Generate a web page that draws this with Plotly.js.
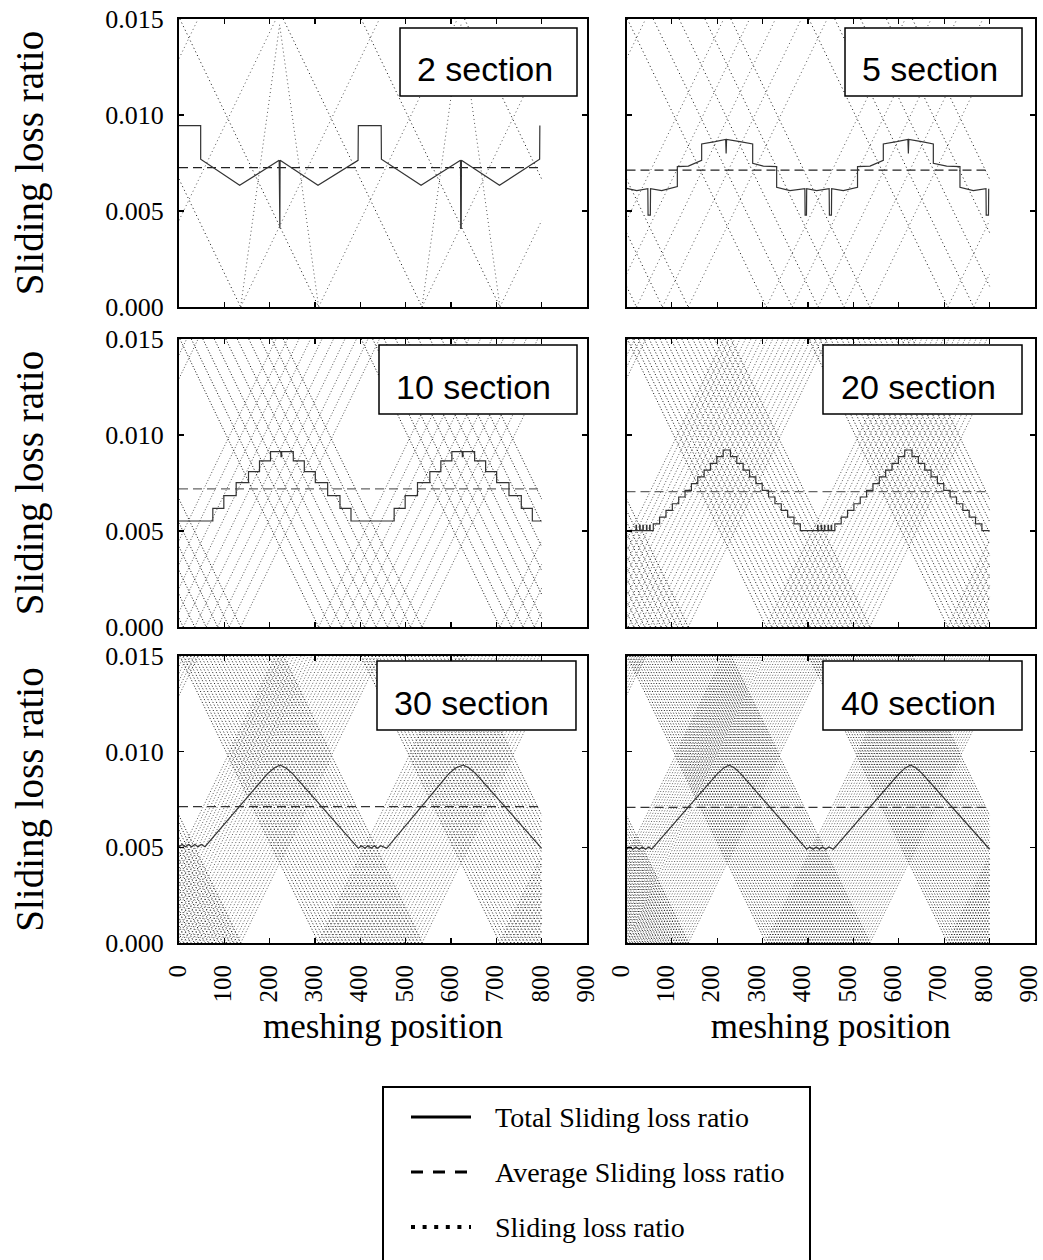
<!DOCTYPE html>
<html>
<head>
<meta charset="utf-8">
<script src="https://cdn.plot.ly/plotly-3.0.1.min.js"></script>
<style>
  html, body { margin: 0; padding: 0; background: #fff; }
  #chart { width: 1043px; height: 1260px; }
</style>
</head>
<body>
<div id="chart"></div>
<script>
// ---- meshing range and per-section loss geometry ----
const meshStart = 0;
const meshEnd = 800;
const pitchShifts = [-400, 0, 400, 800];   // the section curves repeat every tooth pitch
const lossTop = 0.015;
const sectionSlope = 4.9e-5;               // loss ratio gained per unit of meshing position away from a pitch point

// zero-sliding (pitch point) positions of the sections within one pitch
const apex2  = [-92, 136];
const apex5  = [-92, -35, 22, 79, 136];
const apex10 = [-92, -66.7, -41.3, -16, 9.3, 34.7, 60, 85.3, 110.7, 136];
const apex20 = [-92, -80, -68, -56, -44, -32, -20, -8, 4, 16, 28, 40, 52, 64, 76, 88, 100, 112, 124, 136];
const apex30 = [-92, -84.1, -76.3, -68.4, -60.6, -52.7, -44.8, -37, -29.1, -21.2, -13.4, -5.5, 2.3, 10.2, 18.1,
                25.9, 33.8, 41.7, 49.5, 57.4, 65.2, 73.1, 81, 88.8, 96.7, 104.6, 112.4, 120.3, 128.1, 136];
const apex40 = [-92, -86.2, -80.3, -74.5, -68.6, -62.8, -56.9, -51.1, -45.2, -39.4, -33.5, -27.7, -21.8, -16,
                -10.2, -4.3, 1.5, 7.4, 13.2, 19.1, 24.9, 30.8, 36.6, 42.5, 48.3, 54.2, 60, 65.8, 71.7, 77.5,
                83.4, 89.2, 95.1, 100.9, 106.8, 112.6, 118.5, 124.3, 130.2, 136];

// steep peaks seen with two sections
const steep2X = [136, 222, 308, null, 536, 622, 708];
const steep2Y = [0, 0.0147, 0, null, 0, 0.0147, 0];

// ---- total sliding loss ratio ----
const total2X = [0, 47.8, 47.8, 133.8, 221, 221.5, 222.5, 223, 306.6, 395, 395.6, 446, 446.5, 534, 621, 621.5, 622.5, 623, 707, 795.5, 796];
const total2Y = [0.00945, 0.00945, 0.0077, 0.00634, 0.00764, 0.0041, 0.0041, 0.00764, 0.00634, 0.00764, 0.00945, 0.00945, 0.0077, 0.00634, 0.00764, 0.0041, 0.0041, 0.00764, 0.00634, 0.0077, 0.00945];

const total5X = [0, 22.6, 47, 47.5, 52.5, 53, 77.6, 112, 112, 136.2,
                 165.6, 165.6, 195, 218.5, 219.5, 220.5, 250, 278, 278, 301.5,
                 330.8, 330.8, 360.2, 393, 393.5, 396.5, 397, 419, 446.5, 447,
                 451.5, 452, 477.7, 509, 509, 536.5, 565.8, 565.8, 595.2, 620,
                 621, 622, 650.3, 676, 676, 705.4, 734.7, 734.7, 764.1, 792,
                 792.5, 797.5, 798];
const total5Y = [0.00618, 0.00606, 0.00616, 0.00479, 0.00479, 0.00616, 0.00606, 0.00627, 0.00731, 0.00734,
                 0.00764, 0.00849, 0.00861, 0.00873, 0.0080, 0.00873, 0.00861, 0.00849, 0.00748, 0.00734,
                 0.00731, 0.00623, 0.00606, 0.00616, 0.00479, 0.00479, 0.00616, 0.00606, 0.00616, 0.00479,
                 0.00479, 0.00616, 0.00606, 0.00623, 0.00731, 0.00734, 0.00764, 0.00849, 0.00861, 0.00873,
                 0.0080, 0.00873, 0.00861, 0.00849, 0.00748, 0.00734, 0.00731, 0.00623, 0.00606, 0.00616,
                 0.00479, 0.00479, 0.00616];

// step curves (each value holds until the next position)
const total10X = [0, 74.6, 98.9, 126.1, 153.3, 177.6, 201.9, 225, 226.5, 252.1, 276.4, 300.7, 327.9, 355.1, 379.4,
                  474.6, 498.9, 526.1, 553.3, 577.6, 601.9, 625, 626.5, 652.1, 676.4, 700.7, 727.9, 755.1, 779.4, 800];
const total10Y = [0.00552, 0.00618, 0.00684, 0.00752, 0.00809, 0.00865, 0.00913, 0.00887, 0.00913, 0.00865, 0.00809, 0.00752, 0.00684, 0.00618, 0.00552,
                  0.00618, 0.00684, 0.00752, 0.00809, 0.00865, 0.00913, 0.00887, 0.00913, 0.00865, 0.00809, 0.00752, 0.00684, 0.00618, 0.00552, 0.00552];

const total20X = [0, 21, 22, 29, 30, 36, 37, 44, 45, 51, 52,
                  59, 73, 87, 101, 115, 129, 143, 157, 171, 185, 199, 213,
                  229, 243, 257, 271, 285, 299, 313, 327, 341, 355, 369, 383,
                  421, 422, 429, 430, 436, 437, 444, 445, 451, 452,
                  459, 473, 487, 501, 515, 529, 543, 557, 571, 585, 599, 613,
                  629, 643, 657, 671, 685, 699, 713, 727, 741, 755, 769, 783, 800];
const total20Y = [0.00502, 0.0053, 0.00502, 0.0053, 0.00502, 0.0053, 0.00502, 0.0053, 0.00502, 0.0053, 0.00502,
                  0.00537, 0.00572, 0.00607, 0.00642, 0.00677, 0.00712, 0.00747, 0.00782, 0.00817, 0.00852, 0.00887, 0.00922,
                  0.00887, 0.00852, 0.00817, 0.00782, 0.00747, 0.00712, 0.00677, 0.00642, 0.00607, 0.00572, 0.00537, 0.00502,
                  0.0053, 0.00502, 0.0053, 0.00502, 0.0053, 0.00502, 0.0053, 0.00502, 0.0053, 0.00502,
                  0.00537, 0.00572, 0.00607, 0.00642, 0.00677, 0.00712, 0.00747, 0.00782, 0.00817, 0.00852, 0.00887, 0.00922,
                  0.00887, 0.00852, 0.00817, 0.00782, 0.00747, 0.00712, 0.00677, 0.00642, 0.00607, 0.00572, 0.00537, 0.00502, 0.00502];

const total30X = [0, 7, 14, 21, 28, 35, 42, 49, 57.4, 195, 210, 223, 236, 251, 395.6,
                  403, 410, 417, 424, 431, 438, 445, 458, 595, 610, 627, 640, 655, 800];
const total30Y = [0.00503, 0.00515, 0.00503, 0.00515, 0.00503, 0.00515, 0.00503, 0.00515, 0.00503, 0.00884, 0.00915, 0.0093, 0.00915, 0.00884, 0.00495,
                  0.00508, 0.00495, 0.00508, 0.00495, 0.00508, 0.00495, 0.00508, 0.00495, 0.00884, 0.00915, 0.0093, 0.00915, 0.00884, 0.00495];

const total40X = [0, 7, 14, 21, 28, 35, 42, 49, 55.4, 200, 214, 226, 238, 252, 397,
                  404, 411, 418, 425, 432, 439, 446, 455.7, 600, 614, 626, 638, 652, 800];
const total40Y = [0.0049, 0.00502, 0.0049, 0.00502, 0.0049, 0.00502, 0.0049, 0.00502, 0.0049, 0.00884, 0.00915, 0.0093, 0.00915, 0.00884, 0.0049,
                  0.00502, 0.0049, 0.00502, 0.0049, 0.00502, 0.0049, 0.00502, 0.0049, 0.00884, 0.00915, 0.0093, 0.00915, 0.00884, 0.0049];

// average sliding loss ratio of each case
const average = [0.00726, 0.00713, 0.00719, 0.00705, 0.00713, 0.00709];

const panelNames = ['2 section', '5 section', '10 section', '20 section', '30 section', '40 section'];
const panelApex = [apex2, apex5, apex10, apex20, apex30, apex40];
const panelTotalX = [total2X, total5X, total10X, total20X, total30X, total40X];
const panelTotalY = [total2Y, total5Y, total10Y, total20Y, total30Y, total40Y];
const panelStepped = [false, false, true, true, false, false];
const panelDots = ['1px,3px', '1px,3px', '1px,2px', '1px,2px', '1px,2px', '1px,2px'];
const averageColor = ['#222', '#222', '#666', '#666', '#333', '#333'];

const xTicks = [0, 100, 200, 300, 400, 500, 600, 700, 800, 900];
const yTicks = [0, 0.005, 0.010, 0.015];
const xLabelShift = [-1, -6];   // per column, keeps the last label inside the page

// ---- helpers ----
// Falling and rising branches of every section curve, clipped to the meshing range
function sectionBranches(apexes) {
  const fall = { x: [], y: [] }, rise = { x: [], y: [] };
  const reach = lossTop / sectionSlope;
  pitchShifts.forEach(shift => {
    apexes.forEach(a0 => {
      const a = a0 + shift;
      const l0 = Math.max(meshStart, a - reach), l1 = Math.min(meshEnd, a);
      if (l1 > l0) {
        fall.x.push(l0, l1, null);
        fall.y.push(sectionSlope * (a - l0), sectionSlope * (a - l1), null);
      }
      const r0 = Math.max(meshStart, a), r1 = Math.min(meshEnd, a + reach);
      if (r1 > r0) {
        rise.x.push(r0, r1, null);
        rise.y.push(sectionSlope * (r0 - a), sectionSlope * (r1 - a), null);
      }
    });
  });
  return { fall, rise };
}

const serif = 'Liberation Serif, Times New Roman, serif';
const sans = 'Liberation Sans, Arial, sans-serif';

const colX = [[179 / 1043, 587 / 1043], [626.5 / 1043, 1035 / 1043]];
const rowY = [[1 - 307 / 1260, 1 - 19 / 1260], [1 - 627 / 1260, 1 - 339 / 1260], [1 - 943 / 1260, 1 - 656 / 1260]];

const traces = [];
const layout = {
  width: 1043, height: 1260,
  margin: { l: 0, r: 0, t: 0, b: 0 },
  paper_bgcolor: '#fff', plot_bgcolor: '#fff',
  showlegend: false,
  font: { family: serif, color: '#000' },
  annotations: [], shapes: []
};

// label boxes inside each panel (axis-domain fractions)
const boxX0 = [0.5417, 0.5349, 0.4902, 0.4810, 0.4853, 0.4810];
const boxX1 = [0.9755, 0.9682, 0.9755, 0.9682, 0.9730, 0.9682];
const boxY0 = [0.7326, 0.7326, 0.7396, 0.7396, 0.7422, 0.7422];
const boxY1 = [0.9688, 0.9688, 0.9792, 0.9792, 0.9826, 0.9826];
const textX = [0.750, 0.743, 0.7206, 0.7156, 0.7174, 0.7156];
const textY = [0.826, 0.826, 0.833, 0.833, 0.835, 0.835];

for (let p = 0; p < 6; p++) {
  const row = Math.floor(p / 2), col = p % 2;
  const sfx = p === 0 ? '' : String(p + 1);
  const xa = 'x' + sfx, ya = 'y' + sfx;

  const br = sectionBranches(panelApex[p]);
  traces.push({
    type: 'scatter', mode: 'lines', xaxis: xa, yaxis: ya, hoverinfo: 'skip',
    x: br.rise.x, y: br.rise.y, connectgaps: false,
    line: { color: '#555', width: 1, dash: panelDots[p] }
  });
  traces.push({
    type: 'scatter', mode: 'lines', xaxis: xa, yaxis: ya, hoverinfo: 'skip',
    x: br.fall.x, y: br.fall.y, connectgaps: false,
    line: { color: '#111', width: 1, dash: panelDots[p] }
  });
  if (p === 0) {
    traces.push({
      type: 'scatter', mode: 'lines', xaxis: xa, yaxis: ya, hoverinfo: 'skip',
      x: steep2X, y: steep2Y, connectgaps: false,
      line: { color: '#555', width: 1, dash: panelDots[p] }
    });
  }
  traces.push({
    type: 'scatter', mode: 'lines', xaxis: xa, yaxis: ya, name: 'Average Sliding loss ratio',
    x: [meshStart, meshEnd], y: [average[p], average[p]],
    line: { color: averageColor[p], width: 1.2, dash: '9px,5px' }
  });
  traces.push({
    type: 'scatter', mode: 'lines', xaxis: xa, yaxis: ya, name: 'Total Sliding loss ratio',
    x: panelTotalX[p], y: panelTotalY[p],
    line: { color: '#333', width: 1.2, shape: panelStepped[p] ? 'hv' : 'linear' }
  });

  layout['xaxis' + sfx] = {
    domain: colX[col], anchor: ya, range: [0, 900], tickvals: xTicks,
    showticklabels: row === 2, tickangle: -90, ticklabelstandoff: 10, ticklabelshift: xLabelShift[col], ticklabeloverflow: 'allow',
    tickfont: { family: serif, size: 25, color: '#000' },
    ticks: 'inside', ticklen: 5, tickwidth: 1.2, tickcolor: '#000',
    showline: true, linecolor: '#000', linewidth: 2, mirror: 'ticks',
    showgrid: false, zeroline: false,
    title: row === 2 ? { text: 'meshing position', font: { family: serif, size: 35, color: '#000' }, standoff: 12 } : { text: '' }
  };
  layout['yaxis' + sfx] = {
    domain: rowY[row], anchor: xa, range: [0, 0.015], tickvals: yTicks, tickformat: '.3f',
    showticklabels: col === 0, ticklabelstandoff: 8,
    tickfont: { family: serif, size: 26, color: '#000' },
    ticks: 'inside', ticklen: 5, tickwidth: 1.2, tickcolor: '#000',
    showline: true, linecolor: '#000', linewidth: 2, mirror: 'ticks',
    showgrid: false, zeroline: false,
    title: col === 0 ? { text: 'Sliding loss ratio', font: { family: serif, size: 39, color: '#000' }, standoff: 50 } : { text: '' }
  };

  layout.shapes.push({
    type: 'rect', xref: xa + ' domain', yref: ya + ' domain', layer: 'above',
    x0: boxX0[p], x1: boxX1[p], y0: boxY0[p], y1: boxY1[p],
    line: { color: '#000', width: 1.5 }, fillcolor: '#fff'
  });
  layout.annotations.push({
    xref: xa + ' domain', yref: ya + ' domain', x: textX[p], y: textY[p],
    xanchor: 'center', yanchor: 'middle', showarrow: false,
    text: panelNames[p], font: { family: sans, size: 34, color: '#000' }
  });
}

// ---- legend ----
const legendLabels = ['Total Sliding loss ratio', 'Average Sliding loss ratio', 'Sliding loss ratio'];
const legendDash = ['solid', '12px,10px', '4px,7.6px'];
const legendWidth = [3, 3, 4];
const legendRowY = [1117, 1172, 1227];
const W = 1043, H = 1260;
layout.shapes.push({
  type: 'rect', xref: 'paper', yref: 'paper',
  x0: 383 / W, x1: 810 / W, y0: 1 - 1264 / H, y1: 1 - 1087 / H,
  line: { color: '#000', width: 2 }, fillcolor: '#fff'
});
legendLabels.forEach((label, i) => {
  const yy = 1 - legendRowY[i] / H;
  layout.shapes.push({
    type: 'line', xref: 'paper', yref: 'paper',
    x0: 411 / W, x1: 471 / W, y0: yy, y1: yy,
    line: { color: '#000', width: legendWidth[i], dash: legendDash[i] }
  });
  layout.annotations.push({
    xref: 'paper', yref: 'paper', x: 493 / W, y: yy, xanchor: 'left', yanchor: 'middle',
    showarrow: false, text: label, font: { family: serif, size: 28, color: '#000' }
  });
});

Plotly.newPlot('chart', traces, layout, { staticPlot: true, displayModeBar: false });
</script>
</body>
</html>
